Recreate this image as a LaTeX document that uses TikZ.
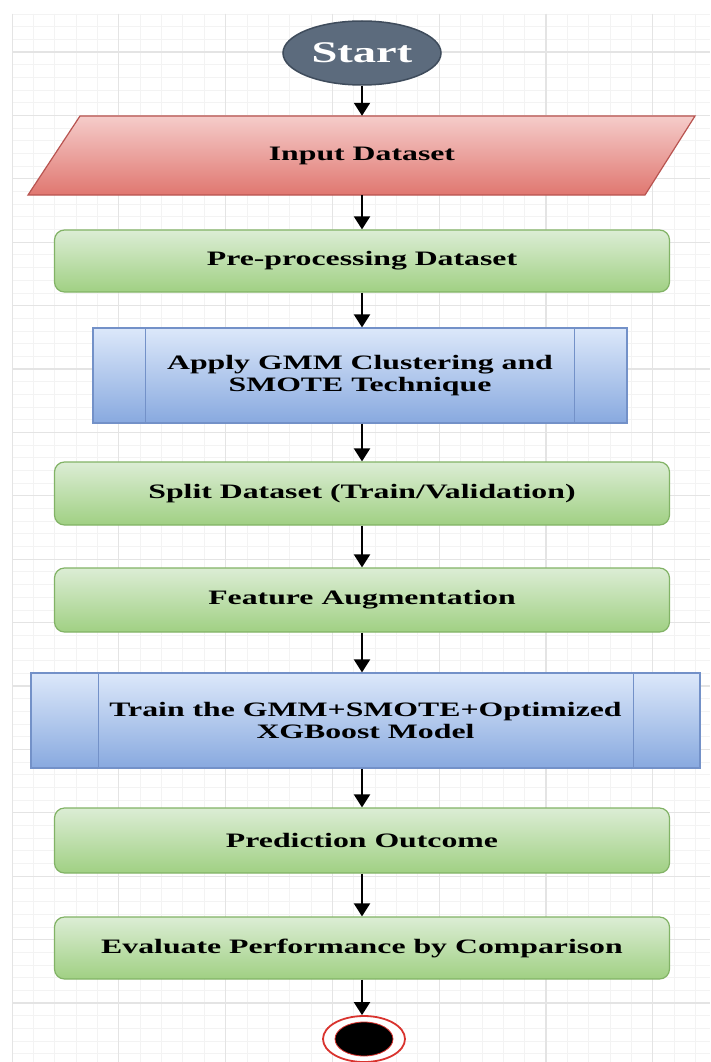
\documentclass[tikz,border=0pt]{standalone}
\usepackage{fontspec}
\setmainfont{Liberation Serif}[FakeStretch=1.55]
\usetikzlibrary{shapes.geometric,arrows.meta}
\definecolor{gridminor}{HTML}{F3F3F3}
\definecolor{gridmajor}{HTML}{E4E4E4}
\definecolor{startfill}{HTML}{5C6B7D}
\definecolor{startline}{HTML}{3F4C5C}
\definecolor{redtop}{HTML}{F5CCCA}
\definecolor{redbot}{HTML}{E07770}
\definecolor{redline}{HTML}{B85450}
\definecolor{greentop}{HTML}{DCEDD5}
\definecolor{greenbot}{HTML}{A0D083}
\definecolor{greenline}{HTML}{82B366}
\definecolor{bluetop}{HTML}{DCE8FA}
\definecolor{bluebot}{HTML}{88A9DF}
\definecolor{blueline}{HTML}{7391C8}
\definecolor{endred}{HTML}{D9332E}
\begin{document}
\begin{tikzpicture}[x=1pt,y=-1pt,
    flow/.style={-{Triangle[width=16pt,length=13pt]},line width=2pt},
    txt/.style={font=\fontsize{20.5}{22}\selectfont\bfseries,align=center},
    procbox/.style={txt,draw=greenline,line width=1.2pt,rounded corners=10pt,
        top color=greentop,bottom color=greenbot,minimum width=615pt},
    predef/.style={txt,draw=blueline,line width=1.2pt,
        top color=bluetop,bottom color=bluebot,minimum height=95pt}]
    \useasboundingbox (0,0) rectangle (710,1062);
    \fill[white] (0,0) rectangle (710,1062);
    \begin{scope}
        \clip (12,14) rectangle (710,1062);
        \foreach \i in {0,...,33} \draw[gridminor,line width=0.8pt] ({12+21.36*\i},14) -- ({12+21.36*\i},1062);
        \foreach \j in {0,...,85} \draw[gridminor,line width=0.8pt] (12,{-11.4+12.68*\j}) -- (710,{-11.4+12.68*\j});
        \foreach \i in {0,...,6} \draw[gridmajor,line width=1.2pt] ({12+106.8*\i},14) -- ({12+106.8*\i},1062);
        \foreach \j in {0,...,17} \draw[gridmajor,line width=1.2pt] (12,{-11.4+63.4*\j}) -- (710,{-11.4+63.4*\j});
    \end{scope}
    \node[ellipse,fill=startfill,draw=startline,line width=1.5pt,minimum width=158pt,minimum height=64pt,
        inner sep=0pt,text=white,font=\fontsize{30}{32}\selectfont\bfseries] (start) at (362,53) {Start};
    \path[draw=redline,line width=1.2pt,top color=redtop,bottom color=redbot]
        (80,116) -- (695,116) -- (645,195) -- (28,195) -- cycle;
    \node[txt,minimum width=500pt,minimum height=79pt] (input) at (362,155.5) {Input Dataset};
    \node[procbox,minimum height=62pt] (prep) at (362,261) {Pre-processing Dataset};
    \node[predef,minimum width=534pt] (gmm) at (360,375.5) {Apply GMM Clustering and\\SMOTE Technique};
    \draw[blueline,line width=1.2pt] ([xshift=53pt]gmm.north west) -- ([xshift=53pt]gmm.south west);
    \draw[blueline,line width=1.2pt] ([xshift=-53pt]gmm.north east) -- ([xshift=-53pt]gmm.south east);
    \node[procbox,minimum height=63pt] (split) at (362,493.5) {Split Dataset (Train/Validation)};
    \node[procbox,minimum height=64pt] (feat) at (362,600) {Feature Augmentation};
    \node[predef,minimum width=669pt] (train) at (365.5,720.5) {Train the GMM+SMOTE+Optimized\\XGBoost Model};
    \draw[blueline,line width=1.2pt] ([xshift=68pt]train.north west) -- ([xshift=68pt]train.south west);
    \draw[blueline,line width=1.2pt] ([xshift=-67pt]train.north east) -- ([xshift=-67pt]train.south east);
    \node[procbox,minimum height=65pt] (pred) at (362,840.5) {Prediction Outcome};
    \node[procbox,minimum height=62pt] (eval) at (362,948) {Evaluate Performance by Comparison};
    \node[ellipse,draw=endred,line width=1.8pt,fill=white,minimum width=82pt,minimum height=46pt] (stop) at (364,1039) {};
    \node[ellipse,draw=endred,line width=0.8pt,fill=black,minimum width=58pt,minimum height=34pt] (stopin) at (stop) {};
    \draw[flow] (start) -- (input.north);
    \draw[flow] (input) -- (prep);
    \draw[flow] (prep.south) -- (prep.south |- gmm.north);
    \draw[flow] (split.north |- gmm.south) -- (split.north);
    \draw[flow] (split) -- (feat);
    \draw[flow] (feat.south) -- (feat.south |- train.north);
    \draw[flow] (pred.north |- train.south) -- (pred.north);
    \draw[flow] (pred) -- (eval);
    \draw[flow] (eval.south) -- (eval.south |- stop.north);
\end{tikzpicture}
\end{document}
